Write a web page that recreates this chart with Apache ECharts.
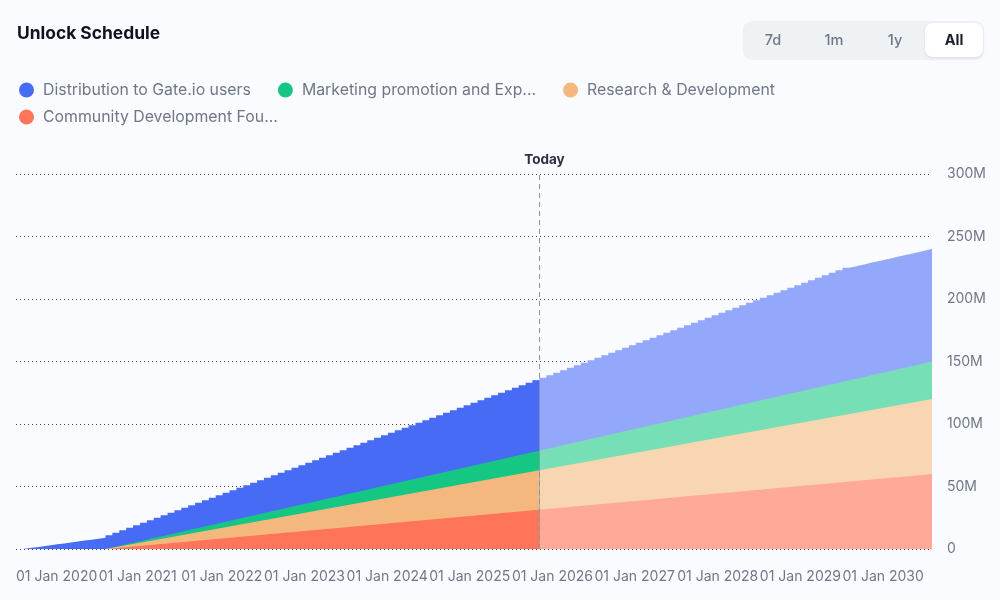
<!DOCTYPE html>
<html>
<head>
<meta charset="utf-8">
<style>html,body{margin:0;padding:0;background:#f9fbfe}#c{width:1000px;height:600px}</style>
<script src="https://cdn.jsdelivr.net/npm/echarts@6/dist/echarts.min.js"></script>
</head>
<body>
<div id="c"></div>
<script>
const yearLabels = [2020,2021,2022,2023,2024,2025,2026,2027,2028,2029,2030,2031];
const monthNames = ['Jan','Feb','Mar','Apr','May','Jun','Jul','Aug','Sep','Oct','Nov','Dec'];
const yTicks = [0,50,100,150,200,250,300];
const todayIndex = 76;

const distribution = [
0,0.75,1.5,2.25,3,3.75,4.5,5.25,6,6.75,7.5,8.25,
9,9.75,10.5,11.25,12,12.75,13.5,14.25,15,15.75,16.5,17.25,
18,18.75,19.5,20.25,21,21.75,22.5,23.25,24,24.75,25.5,26.25,
27,27.75,28.5,29.25,30,30.75,31.5,32.25,33,33.75,34.5,35.25,
36,36.75,37.5,38.25,39,39.75,40.5,41.25,42,42.75,43.5,44.25,
45,45.75,46.5,47.25,48,48.75,49.5,50.25,51,51.75,52.5,53.25,
54,54.75,55.5,56.25,57,57.75,58.5,59.25,60,60.75,61.5,62.25,
63,63.75,64.5,65.25,66,66.75,67.5,68.25,69,69.75,70.5,71.25,
72,72.75,73.5,74.25,75,75.75,76.5,77.25,78,78.75,79.5,80.25,
81,81.75,82.5,83.25,84,84.75,85.5,86.25,87,87.75,88.5,89.25,
90,90,90,90,90,90,90,90,90,90,90,90,90,90];
const marketing = [
0,0,0,0,0,0,0,0,0,0,0,0,0,
0.25,0.5,0.75,1,1.25,1.5,1.75,2,2.25,2.5,2.75,3,
3.25,3.5,3.75,4,4.25,4.5,4.75,5,5.25,5.5,5.75,6,
6.25,6.5,6.75,7,7.25,7.5,7.75,8,8.25,8.5,8.75,9,
9.25,9.5,9.75,10,10.25,10.5,10.75,11,11.25,11.5,11.75,12,
12.25,12.5,12.75,13,13.25,13.5,13.75,14,14.25,14.5,14.75,15,
15.25,15.5,15.75,16,16.25,16.5,16.75,17,17.25,17.5,17.75,18,
18.25,18.5,18.75,19,19.25,19.5,19.75,20,20.25,20.5,20.75,21,
21.25,21.5,21.75,22,22.25,22.5,22.75,23,23.25,23.5,23.75,24,
24.25,24.5,24.75,25,25.25,25.5,25.75,26,26.25,26.5,26.75,27,
27.25,27.5,27.75,28,28.25,28.5,28.75,29,29.25,29.5,29.75,30,30];
const research = [
0,0,0,0,0,0,0,0,0,0,0,0,0,
0.5,1,1.5,2,2.5,3,3.5,4,4.5,5,5.5,6,
6.5,7,7.5,8,8.5,9,9.5,10,10.5,11,11.5,12,
12.5,13,13.5,14,14.5,15,15.5,16,16.5,17,17.5,18,
18.5,19,19.5,20,20.5,21,21.5,22,22.5,23,23.5,24,
24.5,25,25.5,26,26.5,27,27.5,28,28.5,29,29.5,30,
30.5,31,31.5,32,32.5,33,33.5,34,34.5,35,35.5,36,
36.5,37,37.5,38,38.5,39,39.5,40,40.5,41,41.5,42,
42.5,43,43.5,44,44.5,45,45.5,46,46.5,47,47.5,48,
48.5,49,49.5,50,50.5,51,51.5,52,52.5,53,53.5,54,
54.5,55,55.5,56,56.5,57,57.5,58,58.5,59,59.5,60,60];
const community = [
0,0,0,0,0,0,0,0,0,0,0,0,0,
0.5,1,1.5,2,2.5,3,3.5,4,4.5,5,5.5,6,
6.5,7,7.5,8,8.5,9,9.5,10,10.5,11,11.5,12,
12.5,13,13.5,14,14.5,15,15.5,16,16.5,17,17.5,18,
18.5,19,19.5,20,20.5,21,21.5,22,22.5,23,23.5,24,
24.5,25,25.5,26,26.5,27,27.5,28,28.5,29,29.5,30,
30.5,31,31.5,32,32.5,33,33.5,34,34.5,35,35.5,36,
36.5,37,37.5,38,38.5,39,39.5,40,40.5,41,41.5,42,
42.5,43,43.5,44,44.5,45,45.5,46,46.5,47,47.5,48,
48.5,49,49.5,50,50.5,51,51.5,52,52.5,53,53.5,54,
54.5,55,55.5,56,56.5,57,57.5,58,58.5,59,59.5,60,60];

const categories = [];
for (let i = 0; i < distribution.length; i++) {
  categories.push('01 ' + monthNames[i % 12] + ' ' + yearLabels[Math.floor(i / 12)]);
}

const FONT = 'Inter';
const GREY = '#6f7787';
// bottom of the stack first
const layers = [
  {name:'Community Development Fou...', values:community, past:'#ff7559', future:'#ffa998'},
  {name:'Research & Development', values:research, past:'#f4b77e', future:'#f9d6b2'},
  {name:'Marketing promotion and Exp...', values:marketing, past:'#16c784', future:'#76dfb6'},
  {name:'Distribution to Gate.io users', values:distribution, past:'#476bf5', future:'#93a8fa'}
];
// running totals, so each band is painted down to the axis with no seam between bands
const running = new Array(distribution.length).fill(0);
layers.forEach(function (l) {
  l.total = l.values.map(function (v, i) { running[i] += v; return running[i]; });
});

const paintOrder = layers.slice().reverse();
const base = function (l) {
  return {name:l.name, type:'line', step:'end', showSymbol:false, symbol:'none', silent:true,
    animation:false, lineStyle:{width:0}, color:l.past, itemStyle:{color:l.past}};
};
const series = [];
paintOrder.forEach(function (l) {
  series.push(Object.assign(base(l), {
    areaStyle:{color:l.future, opacity:1},
    data:new Array(todayIndex - 1).fill(null).concat(l.total.slice(todayIndex - 1))
  }));
});
paintOrder.forEach(function (l) {
  series.push(Object.assign(base(l), {
    areaStyle:{color:l.past, opacity:1},
    data:l.total.slice(0, todayIndex + 1)
  }));
});
series[series.length - 1].markLine = {
  silent:true, symbol:'none', animation:false, z:10,
  lineStyle:{color:'#8b93a3', type:[5,4], width:1},
  label:{show:true, position:'end', formatter:'Today', distance:7, offset:[5,0],
    fontFamily:FONT, fontSize:13.5, fontWeight:700, color:'#2b3140'},
  data:[{xAxis:categories[todayIndex]}]
};

const legendBase = {type:'plain', orient:'horizontal', icon:'circle', itemWidth:15, itemHeight:15,
  itemGap:27, padding:0, selectedMode:false,
  textStyle:{fontFamily:FONT, fontSize:15.85, color:GREY, padding:[0,0,0,4]}};

const buttons = [
  {label:'7d', x:773}, {label:'1m', x:834}, {label:'1y', x:895}
];

const chart = echarts.init(document.getElementById('c'));
chart.setOption({
  animation:false,
  backgroundColor:'#f9fbfe',
  textStyle:{fontFamily:FONT},
  title:{text:'Unlock Schedule', left:17, top:25, padding:0,
    textStyle:{fontFamily:FONT, fontSize:17.4, fontWeight:700, color:'#10131f'}},
  legend:[
    Object.assign({}, legendBase, {left:19, top:82, data:[layers[3].name, layers[2].name, layers[1].name]}),
    Object.assign({}, legendBase, {left:19, top:109, data:[layers[0].name]})
  ],
  grid:{left:16, right:68, top:174, bottom:51, containLabel:false},
  xAxis:{type:'category', boundaryGap:false, data:categories,
    axisLine:{show:false}, axisTick:{show:false}, splitLine:{show:false},
    axisLabel:{align:'left', margin:21, fontFamily:FONT, fontSize:14, color:GREY,
      interval:function (i) { return i % 12 === 0 && i < 132; }}},
  yAxis:{type:'value', position:'right', min:yTicks[0], max:yTicks[yTicks.length-1], interval:50,
    axisLine:{show:false}, axisTick:{show:false},
    splitLine:{show:true, lineStyle:{color:'#3a3f4a', type:[1,3], width:1}},
    axisLabel:{margin:15, fontFamily:FONT, fontSize:14, color:GREY, padding:[2,0,0,0],
      formatter:function (v) { return v === 0 ? '0' : v + 'M'; }}},
  series:series,
  graphic:[
    {type:'rect', shape:{x:743, y:21, width:241, height:39, r:9}, style:{fill:'#eff2f5'}, silent:true},
    {type:'rect', shape:{x:925, y:23, width:58, height:34, r:8},
      style:{fill:'#ffffff', shadowBlur:3, shadowColor:'rgba(30,40,60,0.10)', shadowOffsetY:1}, silent:true}
  ].concat(buttons.map(function (b) {
    return {type:'text', x:b.x, y:41, silent:true,
      style:{text:b.label, fontFamily:FONT, fontSize:14.5, fontWeight:500, fill:GREY, align:'center', verticalAlign:'middle'}};
  })).concat([
    {type:'text', x:954, y:41, silent:true,
      style:{text:'All', fontFamily:FONT, fontSize:14.5, fontWeight:700, fill:'#1a1f2b', align:'center', verticalAlign:'middle'}}
  ])
});
</script>
</body>
</html>
